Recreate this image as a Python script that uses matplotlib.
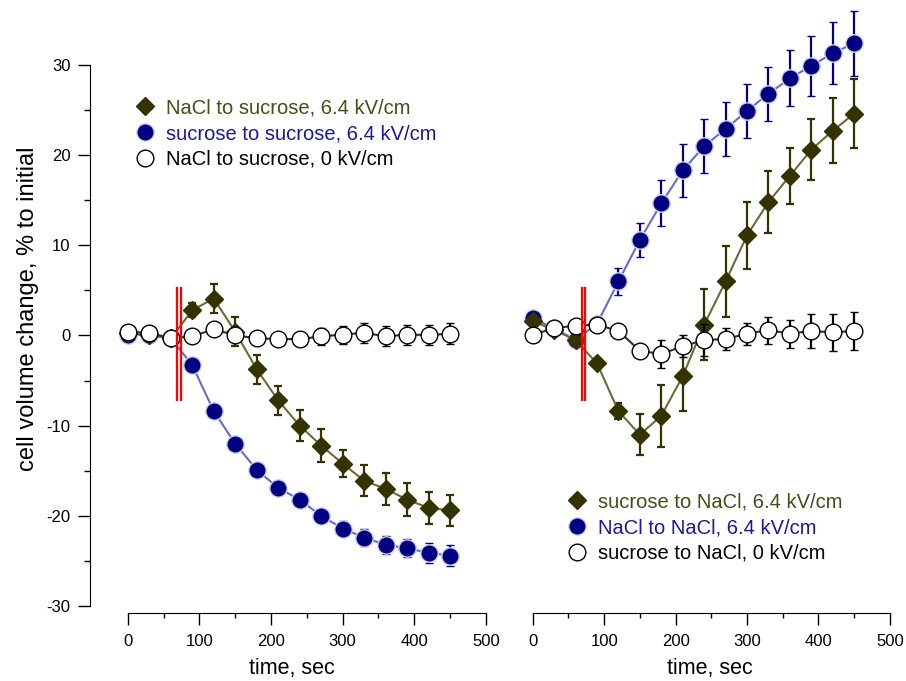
import matplotlib.pyplot as plt
import numpy as np

plt.rcParams['font.family'] = ['Liberation Sans', 'DejaVu Sans']
plt.rcParams['axes.unicode_minus'] = False

# time points, sec
t = np.arange(0, 451, 30)

# left panel: transfer into sucrose
nacl_suc_64 = [0.3, 0.0, -0.3, 2.8, 4.1, 0.4, -3.75, -7.2, -10.0, -12.2, -14.2, -16.1, -17.0, -18.2, -19.1, -19.4]
nacl_suc_64_err = [0.3, 0.3, 0.3, 0.8, 1.6, 1.6, 1.6, 1.6, 1.75, 1.8, 1.5, 1.7, 1.75, 1.85, 1.8, 1.7]
suc_suc_64 = [0.0, 0.1, -0.3, -3.3, -8.4, -12.0, -14.9, -16.9, -18.2, -20.0, -21.4, -22.4, -23.2, -23.6, -24.1, -24.4]
suc_suc_64_err = [0, 0, 0, 0, 0, 0, 0.2, 0.3, 0.4, 0.6, 0.8, 0.9, 1.0, 1.0, 1.1, 1.2]
nacl_suc_0 = [0.4, 0.3, -0.3, -0.1, 0.7, 0.0, -0.3, -0.4, -0.4, -0.1, 0.1, 0.3, -0.1, 0.1, 0.05, 0.2]
nacl_suc_0_err = [0.3, 0.3, 0.3, 0.3, 0.3, 0.4, 0.5, 0.6, 0.7, 0.9, 1.0, 1.1, 1.1, 1.1, 1.1, 1.15]

# right panel: transfer into NaCl
suc_nacl_64 = [1.6, 0.6, -0.5, -3.1, -8.4, -11.0, -8.9, -4.5, 1.2, 6.0, 11.1, 14.8, 17.7, 20.6, 22.7, 24.6]
suc_nacl_64_err = [0.3, 0.3, 0.3, 0.5, 0.9, 2.3, 3.45, 3.9, 3.9, 3.9, 3.75, 3.4, 3.1, 3.4, 3.6, 3.8]
nacl_nacl_64 = [1.9, 0.8, -0.5, 1.3, 6.0, 10.6, 14.65, 18.3, 21.0, 22.9, 24.9, 26.8, 28.5, 29.9, 31.3, 32.4]
nacl_nacl_64_err = [0.2, 0.2, 0.2, 0.5, 1.5, 1.9, 2.55, 2.9, 3.0, 2.95, 3.0, 3.0, 3.1, 3.3, 3.45, 3.6]
suc_nacl_0 = [0.1, 0.8, 1.1, 1.2, 0.5, -1.7, -2.05, -1.2, -0.5, -0.4, 0.2, 0.6, 0.2, 0.5, 0.35, 0.5]
suc_nacl_0_err = [0.2, 0.2, 0.2, 0.3, 0.3, 0.6, 1.5, 1.2, 1.75, 1.2, 1.2, 1.5, 1.55, 1.9, 2.05, 2.1]

pulse_t = [68.5, 73.5]   # electric pulse marker
pulse_y = [5.3, -7.2]

left_labels = ['NaCl to sucrose, 6.4 kV/cm', 'sucrose to sucrose, 6.4 kV/cm', 'NaCl to sucrose, 0 kV/cm']
right_labels = ['sucrose to NaCl, 6.4 kV/cm', 'NaCl to NaCl, 6.4 kV/cm', 'sucrose to NaCl, 0 kV/cm']

olive_m, olive_l = '#333300', '#6b6b3a'
navy_m, navy_l = '#000080', '#6a6acc'
txt_colors = ['#4a4a1a', '#1a1a99', 'black']

fig = plt.figure(figsize=(9.06, 6.81), dpi=100)
axL = fig.add_axes([0.0993, 0.1034, 0.4448, 0.8874])
axR = fig.add_axes([0.5762, 0.1034, 0.4139, 0.8874])


def draw(ax, y1, e1, y2, e2, y3, e3):
    h1 = ax.errorbar(t, y2, yerr=e2, color=navy_l, ecolor=navy_m, lw=1.5, elinewidth=1.6,
                     capsize=3, capthick=1.6, marker='o', ms=12.5, mfc=navy_m, mec='#d0d0e4',
                     mew=1.0, zorder=2)
    h0 = ax.errorbar(t, y1, yerr=e1, color=olive_l, ecolor=olive_m, lw=1.5, elinewidth=1.6,
                     capsize=3, capthick=1.6, marker='D', ms=9.5, mfc=olive_m, mec=olive_m,
                     zorder=3)
    h2 = ax.errorbar(t, y3, yerr=e3, color='#333333', ecolor='black', lw=1.5, elinewidth=1.6,
                     capsize=3, capthick=1.6, marker='o', ms=12, mfc='white', mec='black',
                     mew=1.0, zorder=4)
    for x in pulse_t:
        ax.plot([x, x], pulse_y, color='red', lw=1.6, zorder=5)
    ax.set_ylim(-30.5, 36.5)
    ax.spines['top'].set_visible(False)
    ax.spines['right'].set_visible(False)
    ax.spines['bottom'].set_bounds(0, 500)
    ax.spines['bottom'].set_position(('outward', 2))
    ax.set_xticks(np.arange(0, 501, 100))
    ax.set_xticks(np.arange(50, 500, 100), minor=True)
    ax.tick_params(axis='x', which='major', length=8.6, width=1, labelsize=12, pad=6.5)
    ax.tick_params(axis='x', which='minor', length=3.6, width=1)
    ax.set_xlabel('time, sec', fontsize=15.5, labelpad=6)
    return [h0, h1, h2]


hl = draw(axL, nacl_suc_64, nacl_suc_64_err, suc_suc_64, suc_suc_64_err, nacl_suc_0, nacl_suc_0_err)
hr = draw(axR, suc_nacl_64, suc_nacl_64_err, nacl_nacl_64, nacl_nacl_64_err, suc_nacl_0, suc_nacl_0_err)

axL.set_xlim(-53, 510)
axR.set_xlim(-15, 510)

axL.spines['left'].set_bounds(-30, 30)
axL.set_yticks(np.arange(-30, 31, 10))
axL.set_yticks(np.arange(-25, 30, 10), minor=True)
axL.tick_params(axis='y', which='major', length=8.6, width=1, labelsize=12, pad=5.5)
axL.tick_params(axis='y', which='minor', length=4.5, width=1)
axL.set_ylabel('cell volume change, % to initial', fontsize=17, labelpad=5)

axR.spines['left'].set_visible(False)
axR.set_yticks([])

# legends: markers only
def legend(ax, handles, labels, anchor):
    hs = [h.lines[0] for h in handles]
    lg = fig.legend(hs, labels, loc='upper left', bbox_to_anchor=anchor, frameon=False,
                    fontsize=14.5, handlelength=0.85, handletextpad=0.6, labelspacing=0.33,
                    borderpad=0, borderaxespad=0)
    for line in lg.get_lines():
        line.set_linestyle('none')
    for txt, c in zip(lg.get_texts(), txt_colors):
        txt.set_color(c)

legend(axL, hl, left_labels, (0.1507, 0.8554))
legend(axR, hr, right_labels, (0.6275, 0.2768))

plt.savefig('out.png', dpi=100)
